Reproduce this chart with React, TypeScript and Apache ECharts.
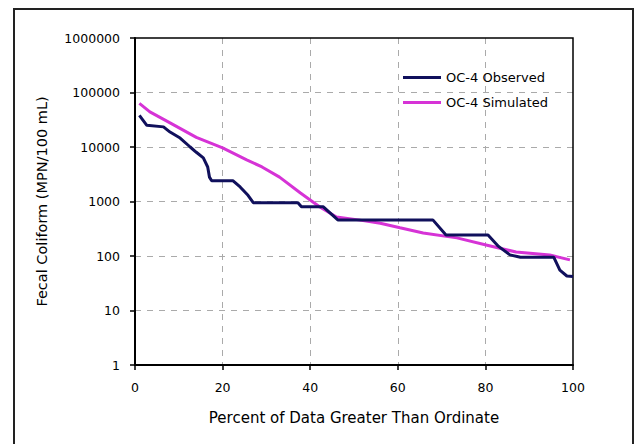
import React, { useEffect, useRef } from "react";
import * as echarts from "echarts";

const xTicks = [0, 20, 40, 60, 80, 100];
const yTicks = [1, 10, 100, 1000, 10000, 100000, 1000000];

const observedX = [1, 2.7, 6.5, 8, 10.3, 12.6, 14, 15.6, 16.6, 17, 17.5, 22.4, 24, 25.8, 27, 37.2, 38, 43, 46.3, 68, 71, 80.6, 83, 85.6, 88, 95.6, 97, 98.6, 100];
const observedY = [38000, 25000, 23400, 18800, 14600, 10000, 8000, 6300, 4300, 2800, 2400, 2400, 1850, 1300, 950, 950, 800, 800, 460, 460, 243, 243, 150, 105, 95, 95, 55, 43, 42];

const simulatedX = [1, 3.4, 8, 14, 20, 25.5, 29, 33, 37.7, 42.2, 46, 51, 56, 60.5, 65.8, 73.5, 80.4, 87, 94.7, 99.3];
const simulatedY = [63000, 44000, 27700, 15000, 9600, 5800, 4300, 2800, 1450, 790, 520, 460, 400, 330, 265, 215, 158, 118, 104, 85];

const seriesNames = ["OC-4 Observed", "OC-4 Simulated"];
const seriesColors = ["#10105c", "#d633d6"];

export default function App() {
  const ref = useRef<HTMLDivElement>(null);
  useEffect(() => {
    if (!ref.current) return;
    const chart = echarts.init(ref.current, null, { renderer: "svg" });
    const font = "DejaVu Sans, sans-serif";
    const obs = observedX.map((x, i) => [x, observedY[i]]);
    const sim = simulatedX.map((x, i) => [x, simulatedY[i]]);
    chart.setOption({
      animation: false,
      backgroundColor: "#ffffff",
      textStyle: { fontFamily: font },
      graphic: [
        {
          type: "rect",
          shape: { x: 14, y: 9, width: 619, height: 450 },
          style: { fill: "none", stroke: "#222", lineWidth: 2 },
          silent: true,
          z: -1,
        },
        {
          type: "rect",
          shape: { x: 135, y: 38, width: 438, height: 327 },
          style: { fill: "none", stroke: "#000", lineWidth: 1.5 },
          silent: true,
          z: 1,
        },
      ],
      grid: {
        left: 135,
        top: 38,
        width: 438,
        height: 327,
        show: false,
      },
      legend: {
        orient: "vertical",
        left: 398,
        top: 66,
        itemWidth: 38,
        itemHeight: 3,
        itemGap: 12,
        icon: "rect",
        textStyle: { color: "#000", fontSize: 13, fontFamily: font },
        data: seriesNames,
      },
      xAxis: {
        type: "value",
        min: xTicks[0],
        max: xTicks[xTicks.length - 1],
        interval: 20,
        name: "Percent of Data Greater Than Ordinate",
        nameLocation: "middle",
        nameGap: 45,
        nameTextStyle: { color: "#000", fontSize: 15, fontFamily: font },
        axisLine: { show: true, lineStyle: { color: "#000", width: 2 } },
        axisTick: { show: true, length: 5, lineStyle: { color: "#000", width: 1.5 } },
        axisLabel: { color: "#000", fontSize: 12.5, margin: 16, fontFamily: font },
        splitLine: {
          show: true,
          showMinLine: false,
          showMaxLine: false,
          lineStyle: { color: "#aaa", type: [6, 6], width: 1 },
        },
      },
      yAxis: {
        type: "log",
        logBase: 10,
        min: yTicks[0],
        max: yTicks[yTicks.length - 1],
        name: "Fecal Coliform (MPN/100 mL)",
        nameLocation: "middle",
        nameGap: 86,
        nameTextStyle: { color: "#000", fontSize: 14.5, fontFamily: font },
        axisLine: { show: true, lineStyle: { color: "#000", width: 2 } },
        axisTick: { show: true, length: 5, lineStyle: { color: "#000", width: 1.5 } },
        axisLabel: {
          color: "#000",
          fontSize: 12.5,
          margin: 15,
          fontFamily: font,
          formatter: (v: number) => String(Math.round(v)),
        },
        splitLine: {
          show: true,
          showMinLine: false,
          showMaxLine: false,
          lineStyle: { color: "#aaa", type: [6, 6], width: 1 },
        },
      },
      series: [
        {
          name: seriesNames[0],
          type: "line",
          data: obs,
          showSymbol: false,
          lineStyle: { color: seriesColors[0], width: 3 },
          itemStyle: { color: seriesColors[0] },
          z: 3,
        },
        {
          name: seriesNames[1],
          type: "line",
          data: sim,
          showSymbol: false,
          lineStyle: { color: seriesColors[1], width: 3 },
          itemStyle: { color: seriesColors[1] },
          z: 2,
        },
      ],
    });
    return () => chart.dispose();
  }, []);
  return (
    <div
      ref={ref}
      style={{ position: "fixed", left: 0, top: 0, width: 636, height: 444, background: "#fff" }}
    />
  );
}
